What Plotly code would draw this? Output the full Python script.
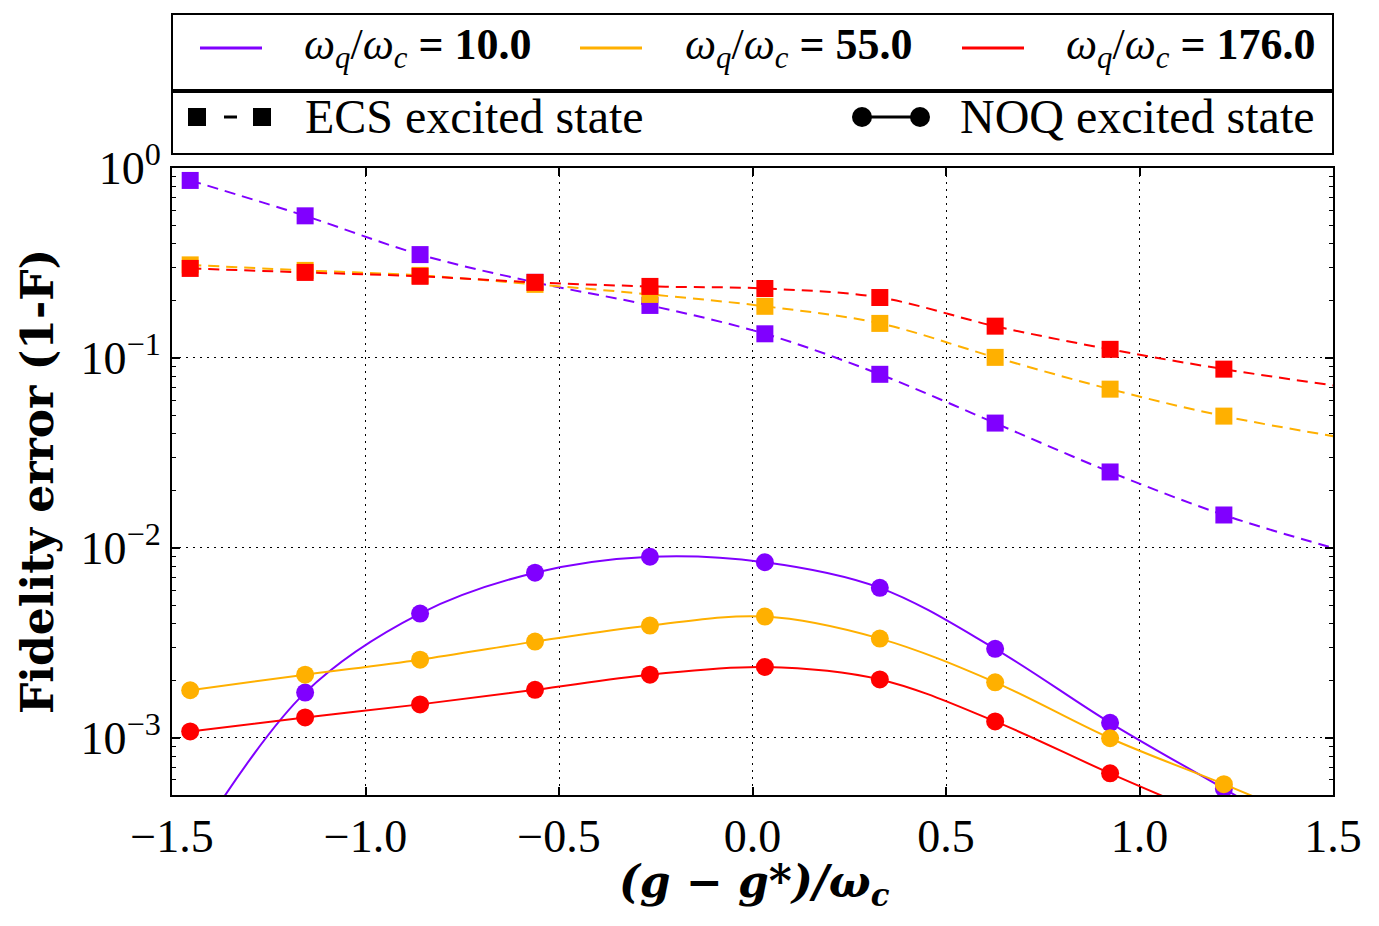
import math
import plotly.graph_objects as go

# ---------------- data ----------------
x_vals = [-1.453, -1.156, -0.859, -0.562, -0.265, 0.032, 0.329, 0.627, 0.924, 1.218, 1.515]
N_MARK = 10  # the last sample lies beyond the axis and carries no visible marker

# ECS excited state (dashed, squares)
ecs_10 = [0.86, 0.56, 0.35, 0.25, 0.189, 0.134, 0.082, 0.0454, 0.0251, 0.0149, 0.0098]
ecs_55 = [0.309, 0.289, 0.272, 0.244, 0.216, 0.187, 0.152, 0.1007, 0.0685, 0.0494, 0.0383]
ecs_176 = [0.296, 0.282, 0.269, 0.250, 0.238, 0.232, 0.208, 0.147, 0.111, 0.0873, 0.071]

# NOQ excited state (solid, circles)
noq_10 = [0.00026, 0.00173, 0.00451, 0.0074, 0.00898, 0.0084, 0.00616, 0.00294, 0.0012, 0.00054, 0.00024]
noq_55 = [0.00178, 0.00215, 0.00258, 0.00321, 0.0039, 0.00435, 0.00333, 0.00196, 0.000995, 0.00057, 0.00032]
noq_176 = [0.00108, 0.00128, 0.0015, 0.00179, 0.00215, 0.00236, 0.00203, 0.00122, 0.00065, 0.00036, 0.0002]

ratio_labels = ["10.0", "55.0", "176.0"]
colors = ["#8000ff", "#ffb000", "#ff0000"]

x_ticks = [-1.5, -1.0, -0.5, 0.0, 0.5, 1.0, 1.5]
x_ticktext = ["\u22121.5", "\u22121.0", "\u22120.5", "0.0", "0.5", "1.0", "1.5"]
y_ticks = [1, 0.1, 0.01, 0.001]
y_ticktext = ["10<sup>0</sup>", "10<sup>\u22121</sup>", "10<sup>\u22122</sup>", "10<sup>\u22123</sup>"]
y_minor = [k * 10 ** e for e in range(-4, 0) for k in range(2, 10)]

FONT = "Liberation Serif"
TFONT = "DejaVu Serif"

fig = go.Figure()

for ys, c in zip([ecs_10, ecs_55, ecs_176], colors):
    fig.add_trace(go.Scatter(
        x=x_vals, y=ys, mode="lines",
        line=dict(color=c, width=2, dash="11px,7px", shape="spline"),
        showlegend=False, hoverinfo="skip"))
    fig.add_trace(go.Scatter(
        x=x_vals[:N_MARK], y=ys[:N_MARK], mode="markers",
        marker=dict(symbol="square", size=17, color=c),
        showlegend=False, cliponaxis=True))

for ys, c in zip([noq_10, noq_55, noq_176], colors):
    fig.add_trace(go.Scatter(
        x=x_vals, y=ys, mode="lines",
        line=dict(color=c, width=2, shape="spline"),
        showlegend=False, hoverinfo="skip"))
    fig.add_trace(go.Scatter(
        x=x_vals[:N_MARK], y=ys[:N_MARK], mode="markers",
        marker=dict(symbol="circle", size=18, color=c),
        showlegend=False, cliponaxis=True))

# ---------------- layout ----------------
W, H = 1379, 926
L, R, T, B = 172, 1333, 168, 795
pw, ph = R - L, B - T


def px(xp):
    return (xp - L) / pw


def py(yp):
    return (B - yp) / ph


fig.update_layout(
    width=W, height=H,
    margin=dict(l=L, r=W - R, t=T, b=H - B),
    paper_bgcolor="white", plot_bgcolor="white",
    font=dict(family=FONT, color="black"),
    xaxis=dict(
        range=[-1.5, 1.5], tickvals=x_ticks, ticktext=x_ticktext,
        tickfont=dict(size=46, family=FONT),
        showgrid=True, gridcolor="black", griddash="2px,5px", gridwidth=1,
        showline=True, linecolor="black", linewidth=2, mirror="allticks",
        ticks="inside", ticklen=8, tickwidth=1.5, tickcolor="black",
        zeroline=False),
    yaxis=dict(
        type="log", range=[math.log10(5e-4), 0],
        tickvals=y_ticks, ticktext=y_ticktext,
        tickfont=dict(size=46, family=FONT),
        showgrid=True, gridcolor="black", griddash="2px,5px", gridwidth=1,
        showline=True, linecolor="black", linewidth=2, mirror="allticks",
        ticks="inside", ticklen=8, tickwidth=1.5, tickcolor="black",
        minor=dict(tickvals=y_minor, ticks="inside", ticklen=4, tickwidth=1,
                   tickcolor="black", showgrid=False),
        zeroline=False),
)

shapes = []
annotations = []

# legend boxes
shapes.append(dict(type="rect", xref="paper", yref="paper", x0=0, x1=1,
                   y0=py(90), y1=py(14), line=dict(color="black", width=2)))
shapes.append(dict(type="rect", xref="paper", yref="paper", x0=0, x1=1,
                   y0=py(154), y1=py(92), line=dict(color="black", width=2)))

# row 1: colour legend
row1_y = py(48)
line_starts = [200, 580, 962]
text_starts = [302, 683, 1064]
for lab, c, xs, xt in zip(ratio_labels, colors, line_starts, text_starts):
    shapes.append(dict(type="line", xref="paper", yref="paper",
                       x0=px(xs), x1=px(xs + 62), y0=row1_y, y1=row1_y,
                       line=dict(color=c, width=3)))
    annotations.append(dict(
        xref="paper", yref="paper", x=px(xt), y=row1_y, xanchor="left", yanchor="middle",
        text="<i>\u03c9</i><sub><i>q</i></sub>/<i>\u03c9</i><sub><i>c</i></sub> <b>= " + lab + "</b>",
        showarrow=False, font=dict(size=44, family=FONT, color="black")))

# row 2: style legend
row2_y = py(117)
for cx in [197, 262]:
    shapes.append(dict(type="rect", xref="paper", yref="paper",
                       xsizemode="pixel", ysizemode="pixel",
                       xanchor=px(cx), yanchor=row2_y,
                       x0=-9, x1=9, y0=-9, y1=9,
                       fillcolor="black", line=dict(width=0)))
shapes.append(dict(type="line", xref="paper", yref="paper",
                   x0=px(224), x1=px(237), y0=row2_y, y1=row2_y,
                   line=dict(color="black", width=3)))
shapes.append(dict(type="line", xref="paper", yref="paper",
                   x0=px(862), x1=px(920), y0=row2_y, y1=row2_y,
                   line=dict(color="black", width=3)))
for cx in [862, 920]:
    shapes.append(dict(type="circle", xref="paper", yref="paper",
                       xsizemode="pixel", ysizemode="pixel",
                       xanchor=px(cx), yanchor=row2_y,
                       x0=-10, x1=10, y0=-10, y1=10,
                       fillcolor="black", line=dict(width=0)))
annotations.append(dict(xref="paper", yref="paper", x=px(303), y=row2_y,
                        xanchor="left", yanchor="middle", text="ECS excited state",
                        showarrow=False, font=dict(size=48, family=FONT)))
annotations.append(dict(xref="paper", yref="paper", x=px(1317), y=row2_y,
                        xanchor="right", yanchor="middle", text="NOQ excited state",
                        showarrow=False, font=dict(size=48, family=FONT)))

# axis titles
annotations.append(dict(xref="paper", yref="paper", x=px(37), y=py(482),
                        xanchor="center", yanchor="middle", textangle=-90,
                        text="<b>Fidelity error (1-F)</b>", showarrow=False,
                        font=dict(size=44, family=TFONT)))
annotations.append(dict(xref="paper", yref="paper", x=px(754), y=py(884),
                        xanchor="center", yanchor="middle",
                        text="<b><i>(g \u2212 g</i>*<i>)/\u03c9</i><sub><i>c</i></sub></b>",
                        showarrow=False, font=dict(size=44, family=TFONT)))

fig.update_layout(shapes=shapes, annotations=annotations)

fig.write_html("out.html")
